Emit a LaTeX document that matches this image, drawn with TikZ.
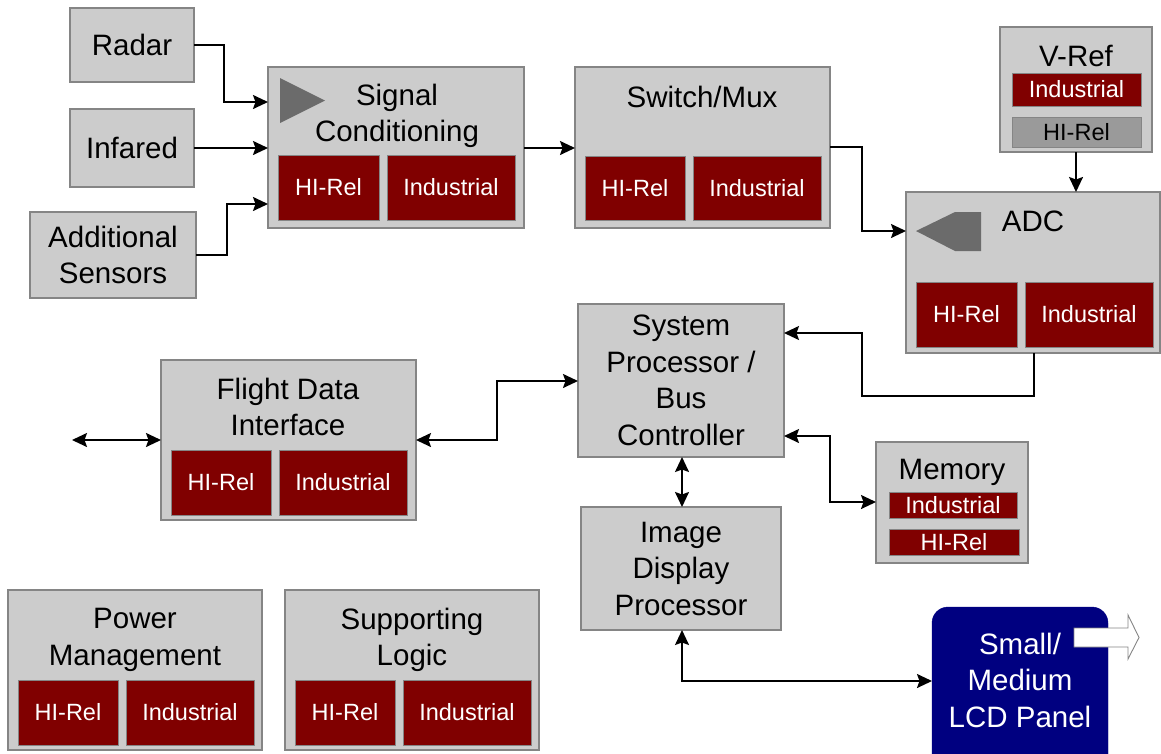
\documentclass[tikz,border=0pt]{standalone}
\usepackage{fontspec}
\setmainfont{Liberation Sans}
\usetikzlibrary{arrows.meta}

\definecolor{boxgray}{HTML}{CCCCCC}
\definecolor{edgegray}{HTML}{858585}
\definecolor{relred}{HTML}{800000}
\definecolor{refgray}{HTML}{9A9A9A}
\definecolor{glyphgray}{HTML}{6B6B6B}
\definecolor{panelblue}{HTML}{000080}

\tikzset{
  blk/.style={draw=edgegray, fill=boxgray, line width=1.1pt, inner sep=0pt, outer sep=0pt,
              anchor=north west, font=\fontsize{29.5}{36.5}\selectfont, align=center},
  chip/.style={draw=edgegray, fill=relred, line width=0.9pt, inner sep=0pt, outer sep=0pt,
               anchor=north west, text=white, font=\fontsize{23.5}{28}\selectfont},
  greychip/.style={chip, fill=refgray, text=black},
  lbl/.style={inner sep=0pt, font=\fontsize{29.5}{36.5}\selectfont, align=center},
  tip/.tip={Stealth[length=15pt, width=14pt, inset=2.5pt]},
  link/.style={line width=1.8pt, -tip},
  both/.style={line width=1.8pt, tip-tip},
}

\begin{document}
\begin{tikzpicture}[x=1pt, y=-1pt]
\useasboundingbox (0,0) rectangle (1161,753);
\clip (0,0) rectangle (1161,753);

% sensors
\node[blk, minimum width=124pt, minimum height=74pt] (radar) at (70,8) {Radar};
\node[blk, minimum width=124pt, minimum height=78pt] (infared) at (70,109) {Infared};
\node[blk, minimum width=166pt, minimum height=86pt] (addl) at (30,212) {Additional\\Sensors};

% signal conditioning
\node[blk, minimum width=256pt, minimum height=161pt] (sigcond) at (268,67) {};
\node[lbl] (sigcond-t) at (397,116) {Signal\\Conditioning};
\node[chip, minimum width=101pt, minimum height=65pt] (sigcond-hi) at (278,155) {HI-Rel};
\node[chip, minimum width=128pt, minimum height=65pt] (sigcond-in) at (387,155) {Industrial};
\fill[glyphgray] (280,78) -- (280,123) -- (325,100.5) -- cycle;

% switch / mux
\node[blk, minimum width=255pt, minimum height=161pt] (switch) at (575,67) {};
\node[lbl] (switch-t) at (702,97) {Switch/Mux};
\node[chip, minimum width=100pt, minimum height=64pt] (switch-hi) at (585,156) {HI-Rel};
\node[chip, minimum width=128pt, minimum height=64pt] (switch-in) at (693,156) {Industrial};

% voltage reference
\node[blk, minimum width=152pt, minimum height=125pt] (vref) at (1000,27) {};
\node[lbl] (vref-t) at (1076,56) {V-Ref};
\node[chip, minimum width=129pt, minimum height=33pt] (vref-in) at (1012,73) {Industrial};
\node[greychip, minimum width=129pt, minimum height=30pt] (vref-hi) at (1012,117) {HI-Rel};

% converter
\node[blk, minimum width=254pt, minimum height=161pt] (adc) at (906,192) {};
\node[lbl] (adc-t) at (1033,221) {ADC};
\node[chip, minimum width=101pt, minimum height=65pt] (adc-hi) at (916,282) {HI-Rel};
\node[chip, minimum width=128pt, minimum height=65pt] (adc-in) at (1025,282) {Industrial};
\fill[glyphgray] (916,231) -- (955,212) -- (981,212) -- (981,251) -- (955,251) -- cycle;

% processing core
\node[blk, minimum width=206pt, minimum height=153pt] (sysproc) at (578,304) {System\\Processor /\\Bus\\Controller};
\node[blk, minimum width=200pt, minimum height=123pt] (idp) at (581,507) {Image\\Display\\Processor};

% flight data interface
\node[blk, minimum width=255pt, minimum height=160pt] (fdi) at (161,360) {};
\node[lbl] (fdi-t) at (288,407) {Flight Data\\Interface};
\node[chip, minimum width=100pt, minimum height=65pt] (fdi-hi) at (171,450) {HI-Rel};
\node[chip, minimum width=128pt, minimum height=65pt] (fdi-in) at (279,450) {Industrial};

% memory
\node[blk, minimum width=152pt, minimum height=121pt] (memory) at (876,442) {};
\node[lbl] (memory-t) at (952,472) {Memory};
\node[chip, minimum width=128pt, minimum height=26pt] (memory-in) at (889,492) {Industrial};
\node[chip, minimum width=130pt, minimum height=26pt] (memory-hi) at (889,529) {HI-Rel};

% power management
\node[blk, minimum width=254pt, minimum height=160pt] (power) at (8,590) {};
\node[lbl] (power-t) at (135,640) {Power\\Management};
\node[chip, minimum width=100pt, minimum height=65pt] (power-hi) at (18,680) {HI-Rel};
\node[chip, minimum width=128pt, minimum height=65pt] (power-in) at (126,680) {Industrial};

% supporting logic
\node[blk, minimum width=254pt, minimum height=160pt] (support) at (285,590) {};
\node[lbl] (support-t) at (412,640) {Supporting\\Logic};
\node[chip, minimum width=100pt, minimum height=65pt] (support-hi) at (295,680) {HI-Rel};
\node[chip, minimum width=128pt, minimum height=65pt] (support-in) at (403,680) {Industrial};

% display panel
\node[draw=panelblue, fill=panelblue, rounded corners=16pt, inner sep=0pt, outer sep=0pt,
      anchor=north west, minimum width=176pt, minimum height=190pt] (lcd) at (932,607) {};
\node[lbl, text=white] (lcd-t) at (1020,680) {Small/\\Medium\\LCD Panel};
\filldraw[fill=white, draw=edgegray, line width=0.9pt]
  (1074,628) -- (1128,628) -- (1128,615) -- (1139,637.5) -- (1128,659) -- (1128,647) -- (1074,647) -- cycle;

% connectors
\coordinate (ext) at (72,440);
\draw[link] (radar.east) -| (224,102) -- (sigcond.west |- 0,102);
\draw[link] (infared.east |- 0,148) -- (sigcond.west |- 0,148);
\draw[link] (addl.east) -| (227,204) -- (sigcond.west |- 0,204);
\draw[link] (sigcond.east |- 0,148) -- (switch.west |- 0,148);
\draw[link] (switch.east |- 0,147) -| (862,231) -- (adc.west |- 0,231);
\draw[link] (vref.south) -- (adc.north -| vref.south);
\draw[link] (adc.south -| 1034,0) |- (862,396) |- (sysproc.east |- 0,333);
\draw[both] (fdi.east |- 0,440) -| (497,381) -- (sysproc.west |- 0,381);
\draw[both] (ext) -- (fdi.west |- ext);
\draw[both] (sysproc.east |- 0,436) -| (830,502) -- (memory.west |- 0,502);
\draw[both] (sysproc.south -| 682,0) -- (idp.north -| 682,0);
\draw[both] (idp.south -| 682,0) |- (lcd.west |- 0,681);
\end{tikzpicture}
\end{document}
